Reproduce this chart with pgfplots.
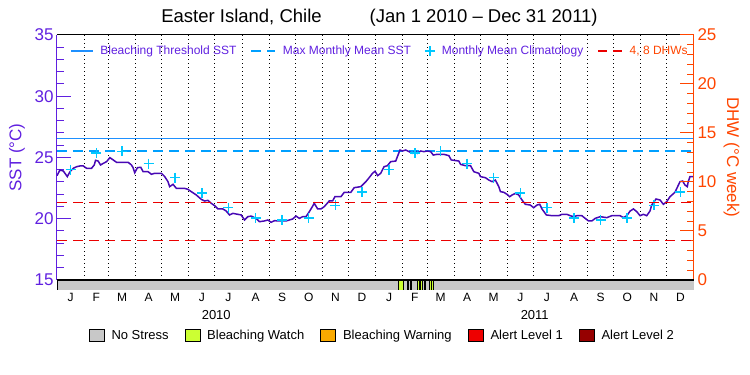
\documentclass[border=0pt]{standalone}
\usepackage{pgfplots}
\pgfplotsset{compat=1.18}
\usepackage{fontspec}
\setmainfont{Liberation Sans}
\definecolor{sstaxis}{RGB}{96,32,224}
\definecolor{sstline}{RGB}{72,8,180}
\definecolor{thrblue}{RGB}{30,144,255}
\definecolor{mmmblue}{RGB}{0,160,255}
\definecolor{climblue}{RGB}{0,200,255}
\definecolor{dhwred}{RGB}{235,0,0}
\definecolor{dhwaxis}{RGB}{255,69,0}
\definecolor{nostress}{RGB}{200,200,200}
\definecolor{watch}{RGB}{204,255,51}
\definecolor{warning}{RGB}{250,170,0}
\definecolor{alertone}{RGB}{238,0,0}
\definecolor{alerttwo}{RGB}{150,0,0}
\pgfplotsset{/pgf/number format/assume math mode=true,
  solidleg/.style={legend image code/.code={\draw[##1] (0pt,0pt) -- (22pt,0pt);}},
  dashleg/.style={legend image code/.code={\draw[##1] (0pt,0pt) -- (24pt,0pt);}},
  plusleg/.style={legend image code/.code={\draw[##1] plot[only marks] coordinates {(5pt,0pt)};}},
  boxleg/.style={legend image code/.code={\draw[##1] (0pt,-6pt) rectangle (15pt,6pt);}},
}
\begin{document}
\begin{tikzpicture}
\path[use as bounding box] (0pt,0pt) rectangle (750pt,375pt);
% ---------------- SST axis ----------------
\begin{axis}[
  at={(57pt,95pt)}, anchor=south west,
  width=637pt, height=245pt, scale only axis,
  xmin=0, xmax=730, ymin=15, ymax=35,
  axis x line*=top, axis y line*=left,
  x axis line style={black, line width=1pt, -},
  y axis line style={sstaxis, line width=1pt, -},
  xtick={31,59,90,120,151,181,212,243,273,304,334,365,396,424,455,485,516,546,577,608,638,669,699},
  xticklabels={},
  xmajorgrids,
  major x grid style={black, line width=0.9pt, dash pattern=on 0.9pt off 3.1pt},
  x tick style={draw=none},
  ytick={15,20,25,30,35},
  minor ytick={16,17,18,19,21,22,23,24,26,27,28,29,31,32,33,34},
  y tick style={sstaxis, line width=1pt},
  tick align=inside,
  major tick length=14pt, minor tick length=7pt,
  yticklabel style={sstaxis, font=\fontsize{17}{17}\selectfont},
  ylabel={SST (°C)},
  ylabel style={sstaxis, font=\fontsize{17}{17}\selectfont, at={(axis description cs:-0.0628,0.5)}, anchor=center},
  title={Easter Island, Chile\hspace{48pt}(Jan 1 2010 – Dec 31 2011)},
  title style={font=\fontsize{18.5}{18.5}\selectfont, at={(0.5,1)}, anchor=base, yshift=6.7pt, xshift=4pt},
  legend columns=4,
  legend style={at={(0.0204,1)}, anchor=west, yshift=-16pt, draw=none, fill=none, inner sep=0pt,
     nodes={inner sep=0pt, text=sstaxis, font=\fontsize{12}{12}\selectfont},
     /tikz/every odd column/.append style={column sep=7pt},
     /tikz/every even column/.append style={column sep=14pt}},
]
\addplot[thrblue, line width=1.2pt, solidleg] coordinates {(0,26.55) (730,26.55)};
\addlegendentry{Bleaching Threshold SST}
\addplot[mmmblue, line width=1.4pt, dash pattern=on 10pt off 6pt, dashleg] coordinates {(0,25.52) (730,25.52)};
\addlegendentry{Max Monthly Mean SST}
\addplot[sstline, line width=1.5pt, forget plot] coordinates {
(0,23.52) (0.8,23.63) (3.4,23.98) (7.2,23.90) (9.1,23.71) (11.8,23.44) (14.9,23.84) (18.7,24.12)
(22.5,24.25) (26.3,24.31) (30.1,24.31) (33.9,24.12) (39.6,24.12) (42.7,24.39) (44.2,24.77) (47.2,24.71)
(49.9,24.39) (53.0,24.52) (56.8,24.66) (60.6,24.99) (64.4,24.80) (68.2,24.61) (73.9,24.61) (81.5,24.61)
(85.3,24.39) (87.2,24.17) (89.1,23.76) (92.2,24.17) (96.0,24.20) (98.7,23.84) (104.4,23.84) (108.2,23.63)
(112.0,23.71) (119.6,23.71) (123.4,23.44) (127.2,23.03) (129.1,22.62) (133.0,22.81) (136.8,22.48) (146.3,22.48)
(150.1,22.40) (153.9,22.21) (159.6,21.94) (165.3,21.59) (169.1,21.45) (173.0,21.50) (176.8,21.26) (180.6,21.07)
(184.4,20.80) (190.1,20.80) (193.9,20.63) (197.7,20.31) (201.6,20.44) (207.3,20.36) (211.1,20.31) (214.9,19.90)
(218.7,20.17) (222.5,20.22) (228.2,20.03) (232.0,19.76) (237.7,19.82) (241.6,19.90) (245.4,19.71) (249.2,19.84)
(256.8,19.82) (262.5,19.82) (266.3,19.90) (270.1,19.98) (273.9,20.22) (277.7,20.03) (281.6,20.17) (285.4,20.17)
(289.2,20.58) (294.9,21.26) (298.7,20.80) (302.5,20.80) (306.3,20.99) (312.0,21.45) (315.8,21.45) (318.5,21.80)
(325.4,21.80) (329.2,22.16) (336.8,22.16) (340.6,22.54) (348.2,22.62) (354.0,23.03) (357.7,23.35) (361.6,23.71)
(364.5,23.88) (367.5,23.52) (371.0,23.71) (374.8,24.25) (378.6,24.33) (382.4,24.66) (388.2,24.71) (390.1,25.07)
(393.1,25.61) (395.8,25.53) (399.6,25.61) (403.4,25.48) (407.2,25.34) (411.0,25.53) (412.9,25.34) (416.7,25.53)
(420.5,25.48) (424.4,25.53) (428.2,25.48) (431.2,25.20) (435.8,25.26) (443.4,25.26) (449.1,25.15) (451.8,24.80)
(460.5,24.71) (462.5,24.44) (468.2,24.33) (473.9,24.33) (477.7,23.84) (483.4,23.71) (485.3,23.44) (491.0,23.35)
(494.8,23.16) (498.6,23.03) (502.4,23.16) (506.3,22.62) (508.2,22.21) (512.0,22.16) (515.8,21.99) (518.8,21.80)
(521.5,21.94) (525.3,22.07) (529.1,21.94) (532.9,21.53) (536.7,21.18) (542.4,21.12) (546.3,20.90) (550.1,21.12)
(553.2,21.18) (555.8,20.80) (560.8,20.31) (567.3,20.25) (574.9,20.25) (578.7,20.36) (584.4,20.36) (588.2,20.25)
(592.0,20.17) (595.8,20.25) (601.5,20.25) (605.3,20.03) (609.2,19.82) (613.0,19.82) (616.8,20.03) (622.5,20.17)
(630.1,20.09) (635.8,20.25) (645.3,20.25) (649.2,20.09) (653.0,20.25) (656.8,20.63) (660.6,20.80) (664.4,20.58)
(668.2,20.25) (672.0,20.36) (675.8,20.25) (679.6,20.63) (681.5,21.12) (686.5,21.61) (691.1,21.53) (694.9,21.18)
(698.7,21.39) (702.5,21.80) (708.2,22.16) (714.0,23.03) (717.0,23.08) (719.6,22.76) (722.3,22.62) (723.4,23.03)
(725.4,23.44) (730,23.44)
};
\addplot[climblue, only marks, mark=+, mark size=5pt, line width=1.5pt, plusleg] coordinates {
(15.5,24.00) (45,25.35) (74.5,25.50) (105,24.50) (135.5,23.35) (166,22.10) (196.5,20.90) (227.5,20.06)
(258,19.90) (288.5,20.06) (319,21.10) (349.5,22.20)
(380.5,24.00) (410,25.35) (439.5,25.50) (470,24.50) (500.5,23.35) (531,22.10) (561.5,20.90) (592.5,20.06)
(623,19.90) (653.5,20.06) (684,21.10) (714.5,22.20)
};
\addlegendentry{Monthly Mean Climatology}
\addlegendimage{dhwred, line width=1.4pt, dash pattern=on 9pt off 6pt, dashleg}
\addlegendentry{\textcolor{dhwaxis}{4, 8 DHWs}}
\end{axis}
% ---------------- DHW axis ----------------
\begin{axis}[
  at={(57pt,95pt)}, anchor=south west,
  width=637pt, height=245pt, scale only axis,
  xmin=0, xmax=730, ymin=0, ymax=25,
  axis x line=none, axis y line*=right,
  y axis line style={dhwaxis, line width=1pt, -},
  ytick={0,5,10,15,20,25},
  minor ytick={1,2,3,4,6,7,8,9,11,12,13,14,16,17,18,19,21,22,23,24},
  y tick style={dhwaxis, line width=1pt},
  tick align=inside, major tick length=14pt, minor tick length=7pt,
  yticklabel style={dhwaxis, font=\fontsize{17}{17}\selectfont},
  ylabel={DHW (°C week)},
  ylabel style={dhwaxis, font=\fontsize{17}{17}\selectfont, at={(axis description cs:1.0589,0.5)}, anchor=center, rotate=180},
]
\addplot[dhwred, line width=1.4pt, dash pattern=on 10pt off 6pt] coordinates {(0,4) (730,4)};
\addplot[dhwred, line width=1.2pt, dash pattern=on 10pt off 6pt] coordinates {(0,7.92) (730,7.92)};
\end{axis}
% ---------------- Status bar ----------------
\begin{axis}[
  at={(57pt,85pt)}, anchor=south west,
  width=637pt, height=10pt, scale only axis,
  xmin=0, xmax=730, ymin=0, ymax=1,
  axis line style={black, line width=1pt},
  ytick=\empty,
  xtick={15.5,45,74.5,105,135.5,166,196.5,227.5,258,288.5,319,349.5,380.5,410,439.5,470,500.5,531,561.5,592.5,623,653.5,684,714.5},
  xticklabels={J,F,M,A,M,J,J,A,S,O,N,D,J,F,M,A,M,J,J,A,S,O,N,D},
  major tick length=0pt,
  xticklabel style={font=\fontsize{12}{12}\selectfont},
  extra x ticks={182.5,547.5}, extra x tick labels={2010,2011},
  extra x tick style={major tick length=0pt, xticklabel style={yshift=-16.5pt, font=\fontsize{13}{13}\selectfont}},
  boxleg,
  legend columns=5,
  legend style={at={(axis description cs:0.0495,-4.57)}, anchor=west, draw=none, fill=none, inner sep=0pt,
     nodes={inner sep=0pt, text=black, font=\fontsize{13}{13}\selectfont},
     /tikz/every odd column/.append style={column sep=7pt},
     /tikz/every even column/.append style={column sep=16pt}},
]
\addplot[fill=nostress, draw=black, line width=0.8pt] coordinates {(0,1) (730,1)} \closedcycle;
\addlegendentry{No Stress}
\addplot[fill=watch, draw=black, line width=0.6pt] coordinates {(391.2,1) (397.3,1)} \closedcycle;
\addlegendentry{Bleaching Watch}
\addplot[fill=watch, draw=black, line width=0.6pt, forget plot] coordinates {(401.5,1) (403.0,1)} \closedcycle;
\addplot[fill=watch, draw=black, line width=0.6pt, forget plot] coordinates {(404.5,1) (406.0,1)} \closedcycle;
\addplot[fill=watch, draw=black, line width=0.6pt, forget plot] coordinates {(413.4,1) (415.6,1)} \closedcycle;
\addplot[fill=watch, draw=black, line width=0.6pt, forget plot] coordinates {(416.8,1) (419.1,1)} \closedcycle;
\addplot[fill=watch, draw=black, line width=0.6pt, forget plot] coordinates {(420.6,1) (422.5,1)} \closedcycle;
\addplot[fill=watch, draw=black, line width=0.6pt, forget plot] coordinates {(426.7,1) (428.6,1)} \closedcycle;
\addplot[fill=watch, draw=black, line width=0.6pt, forget plot] coordinates {(429.4,1) (431.3,1)} \closedcycle;
\addlegendimage{fill=warning, draw=black, line width=0.8pt}
\addlegendentry{Bleaching Warning}
\addlegendimage{fill=alertone, draw=black, line width=0.8pt}
\addlegendentry{Alert Level 1}
\addlegendimage{fill=alerttwo, draw=black, line width=0.8pt}
\addlegendentry{Alert Level 2}
\end{axis}
\end{tikzpicture}
\end{document}
